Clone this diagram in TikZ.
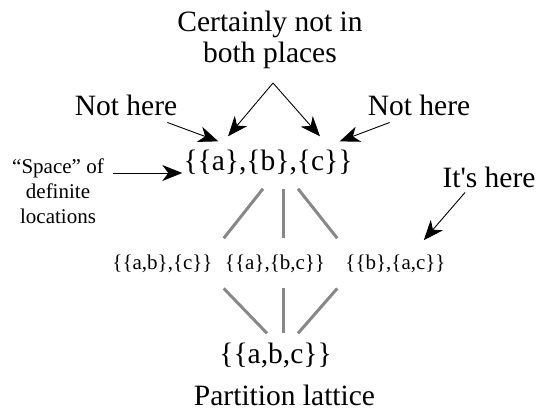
\documentclass[tikz,border=0pt]{standalone}
\usepackage{fontspec}
\setmainfont{Liberation Serif}
\usetikzlibrary{arrows.meta}
\definecolor{latGray}{RGB}{136,136,136}
\begin{document}
\begin{tikzpicture}[x=1pt,y=-1pt,
        big/.style={font=\fontsize{29.5}{30}\selectfont,
                    inner sep=0pt, anchor=base},
        small/.style={font=\fontsize{21}{25}\selectfont,
                      inner sep=0pt, anchor=base},
        arr/.style={-{Stealth[length=20pt,width=16pt,inset=6pt]},
                    line width=0.9pt},
        lat/.style={latGray, line width=3pt}]
        \useasboundingbox (0,0) rectangle (537,412);
        % labels round the lattice
        \node[big, align=center] (cert) at (270,62)
          {Certainly not in\\both places};
        \node[big] (nhl) at (126,115) {Not here};
        \node[big] (nhr) at (419,115) {Not here};
        \node[small, align=center] (space) at (58,223)
          {``Space'' of\\definite\\locations};
        \node[big] (its) at (489,187) {It\textquotesingle s here};
        % the partitions
        \node[big] (top) at (268,170) {\{\{a\},\{b\},\{c\}\}};
        \node[small] (ab) at (162.5,269) {\{\{a,b\},\{c\}\}};
        \node[small] (bc) at (275,269) {\{\{a\},\{b,c\}\}};
        \node[small] (ac) at (395.5,269) {\{\{b\},\{a,c\}\}};
        \node[big] (abc) at (275.5,363) {\{\{a,b,c\}\}};
        \node[big] (part) at (284.5,405) {Partition lattice};
        \coordinate (fork) at (273,83);
        % arrows
        \draw[arr] (fork) -- ([xshift=-40pt,yshift=13pt]top.north);
        \draw[arr] (fork) -- ([xshift=52pt,yshift=13pt]top.north);
        \draw[arr] ([xshift=-10pt,yshift=-7pt]nhl.south east)
          -- ([xshift=35pt,yshift=8pt]top.north west);
        \draw[arr] ([xshift=22pt,yshift=-7pt]nhr.south west)
          -- ([xshift=-13pt,yshift=8pt]top.north east);
        \draw[arr] ([xshift=9pt,yshift=50pt]space.base east)
          -- ([xshift=-1pt,yshift=-3pt]top.base west);
        \draw[arr] ([xshift=-24pt,yshift=-5pt]its.south)
          -- ([xshift=-22pt,yshift=14pt]ac.north east);
        % lattice edges
        \draw[lat] ([xshift=-5pt,yshift=-14pt]top.south)
          -- ([xshift=11pt,yshift=16pt]ab.north east);
        \draw[lat] ([xshift=15pt,yshift=-14pt]top.south)
          -- ([xshift=8pt,yshift=16pt]bc.north);
        \draw[lat] ([xshift=30pt,yshift=-14pt]top.south)
          -- ([xshift=-8pt,yshift=16pt]ac.north west);
        \draw[lat] ([xshift=11pt,yshift=-16pt]ab.south east)
          -- ([xshift=-8.5pt,yshift=9pt]abc.north);
        \draw[lat] ([xshift=8pt,yshift=-16pt]bc.south)
          -- ([xshift=7.5pt,yshift=9pt]abc.north);
        \draw[lat] ([xshift=-8pt,yshift=-16pt]ac.south west)
          -- ([xshift=22.5pt,yshift=9pt]abc.north);
\end{tikzpicture}
\end{document}
